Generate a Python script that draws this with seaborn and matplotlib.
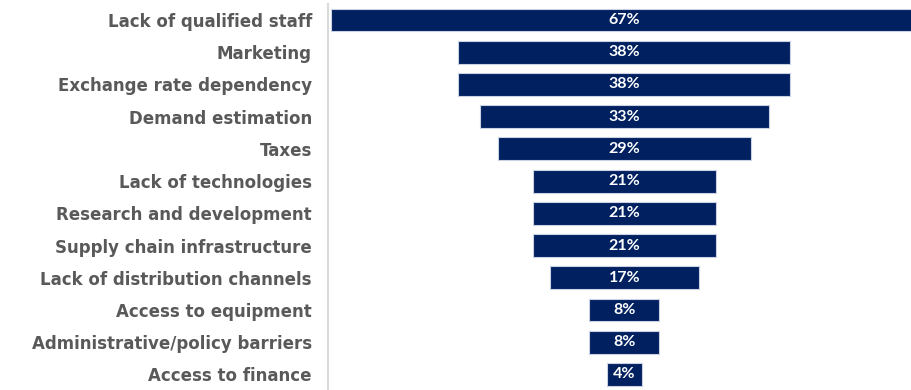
import matplotlib
matplotlib.use("Agg")
import matplotlib.pyplot as plt
import seaborn as sns
import pandas as pd

categories = [
    "Lack of qualified staff",
    "Marketing",
    "Exchange rate dependency",
    "Demand estimation",
    "Taxes",
    "Lack of technologies",
    "Research and development",
    "Supply chain infrastructure",
    "Lack of distribution channels",
    "Access to equipment",
    "Administrative/policy barriers",
    "Access to finance",
]
shares = [67, 38, 38, 33, 29, 21, 21, 21, 17, 8, 8, 4]

sns.set_theme(style="white")
plt.rcParams["font.family"] = ["DejaVu Sans"]

df = pd.DataFrame({"category": categories, "share": shares})

fig = plt.figure(figsize=(9.12, 3.90), dpi=100)
ax = fig.add_axes([0.3596, -0.0015, 0.6404, 0.9915])

sns.barplot(data=df, x="share", y="category", orient="h", color="#002060",
            width=0.71, edgecolor="#c9d1e3", linewidth=0.8, saturation=1,
            ax=ax)

# centre each bar on zero to form the funnel
for patch, v in zip(ax.patches, shares):
    patch.set_x(-v / 2)
    ax.text(0, patch.get_y() + patch.get_height() / 2, f"{v}%",
            ha="center", va="center", color="white", fontsize=11.5,
            fontweight="bold", family=["Lato", "DejaVu Sans"])

ax.set_xlim(-33.9, 32.9)
ax.set_ylim(len(categories) - 0.5, -0.5)
ax.set_xlabel("")
ax.set_ylabel("")
ax.set_xticks([])
ax.tick_params(axis="y", length=0, pad=11.5)
for lbl in ax.get_yticklabels():
    lbl.set_fontsize(12)
    lbl.set_fontweight("bold")
    lbl.set_color("#595959")

for side in ["top", "right", "bottom"]:
    ax.spines[side].set_visible(False)
ax.spines["left"].set_color("#d9d9d9")
ax.spines["left"].set_linewidth(1.5)

fig.savefig("out.png", dpi=100)
